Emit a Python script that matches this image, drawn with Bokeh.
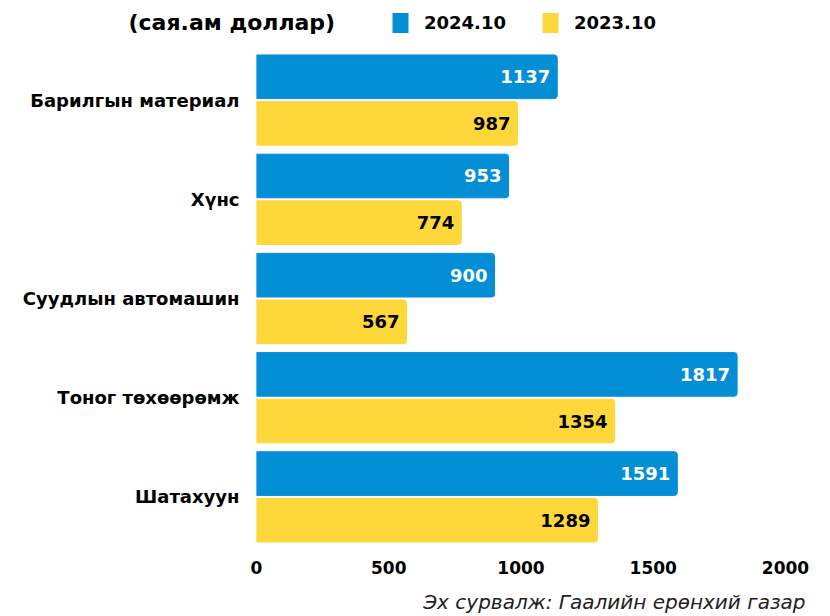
from bokeh.plotting import figure
from bokeh.models import ColumnDataSource, Label, Legend, LegendItem, FactorRange
from bokeh.layouts import column
from bokeh.transform import dodge
from bokeh.core.properties import value
from bokeh.embed import file_html
from bokeh.resources import INLINE

categories = ["Барилгын материал", "Хүнс", "Суудлын автомашин", "Тоног төхөөрөмж", "Шатахуун"]
values_2024 = [1137, 953, 900, 1817, 1591]
values_2023 = [987, 774, 567, 1354, 1289]
series_names = ["2024.10", "2023.10"]
unit_text = "(сая.ам доллар)"
source_text = "Эх сурвалж: Гаалийн ерөнхий газар"
x_ticks = [0, 500, 1000, 1500, 2000]

BLUE = "#048ED6"
YELLOW = "#FED73A"
FONT = "DejaVu Sans"
W = 822

# ---------- header (unit + legend) ----------
h = figure(width=W, height=46, output_backend="svg", toolbar_location=None,
           x_range=(0, 1), y_range=(0, 1), min_border=0)
h.frame_align = False
h.axis.visible = False
h.grid.visible = False
h.outline_line_color = None
d1 = h.hbar(y=[0.5], left=[0], right=[0], height=0.1, fill_color=BLUE, line_color=None)
d2 = h.hbar(y=[0.5], left=[0], right=[0], height=0.1, fill_color=YELLOW, line_color=None)
legend = Legend(items=[LegendItem(label=series_names[0], renderers=[d1]),
                       LegendItem(label=series_names[1], renderers=[d2])],
                orientation="horizontal", location=(390, 11),
                glyph_width=20, glyph_height=25, label_standoff=14, spacing=34,
                padding=0, margin=0, border_line_color=None, background_fill_alpha=0,
                label_text_font=FONT, label_text_font_style="bold", label_text_font_size="18px",
                label_text_color="black", label_height=25)
h.add_layout(legend, "center")
h.add_layout(Label(x=128, y=24, x_units="screen", y_units="screen", text=unit_text,
                   text_font=FONT, text_font_style="bold", text_font_size="22px",
                   text_color="black", text_baseline="middle"))

# ---------- main chart ----------
src = ColumnDataSource(dict(
    cat=categories,
    v24=values_2024,
    v23=values_2023,
    l24=[str(v) for v in values_2024],
    l23=[str(v) for v in values_2023],
))

p = figure(width=W, height=530, output_backend="svg", toolbar_location=None,
           y_range=FactorRange(*reversed(categories)), x_range=(0, 2000),
           min_border_left=256, min_border_right=W - 785, min_border_top=4, min_border_bottom=30)
p.frame_align = False
p.outline_line_color = None
p.grid.visible = False

radius = dict(top_left=0, top_right=3, bottom_right=3, bottom_left=0)
r24 = p.hbar(y=dodge("cat", 0.235, range=p.y_range), right="v24", left=0, height=0.44,
             source=src, color=BLUE, border_radius=radius)
r23 = p.hbar(y=dodge("cat", -0.235, range=p.y_range), right="v23", left=0, height=0.44,
             source=src, color=YELLOW, border_radius=radius)

p.text(x="v24", y=dodge("cat", 0.235, range=p.y_range), text="l24", source=src,
       x_offset=-7, text_align="right", text_baseline="middle", text_color="white",
       text_font=value(FONT), text_font_style="bold", text_font_size="18px")
p.text(x="v23", y=dodge("cat", -0.235, range=p.y_range), text="l23", source=src,
       x_offset=-7, text_align="right", text_baseline="middle", text_color="black",
       text_font=value(FONT), text_font_style="bold", text_font_size="18px")

for ax in (p.xaxis, p.yaxis):
    ax.axis_line_color = None
    ax.major_tick_line_color = None
    ax.minor_tick_line_color = None
    ax.major_label_text_font = FONT
    ax.major_label_text_font_style = "bold"
    ax.major_label_text_color = "black"
p.xaxis.major_label_text_font_size = "17px"
p.yaxis.major_label_text_font_size = "18px"
p.xaxis.ticker = x_ticks
p.xaxis.major_label_standoff = 8
p.yaxis.major_label_standoff = 11

# ---------- footer ----------
f = figure(width=W, height=38, output_backend="svg", toolbar_location=None,
           x_range=(0, 1), y_range=(0, 1), min_border=0)
f.frame_align = False
f.axis.visible = False
f.grid.visible = False
f.outline_line_color = None
f.add_layout(Label(x=805, y=13, x_units="screen", y_units="screen", text=source_text,
                   text_font=FONT, text_font_style="italic", text_font_size="20px",
                   text_color="#222222", text_align="right", text_baseline="middle"))

layout = column(h, p, f, spacing=0)
open("out.html", "w").write(file_html(layout, INLINE))
